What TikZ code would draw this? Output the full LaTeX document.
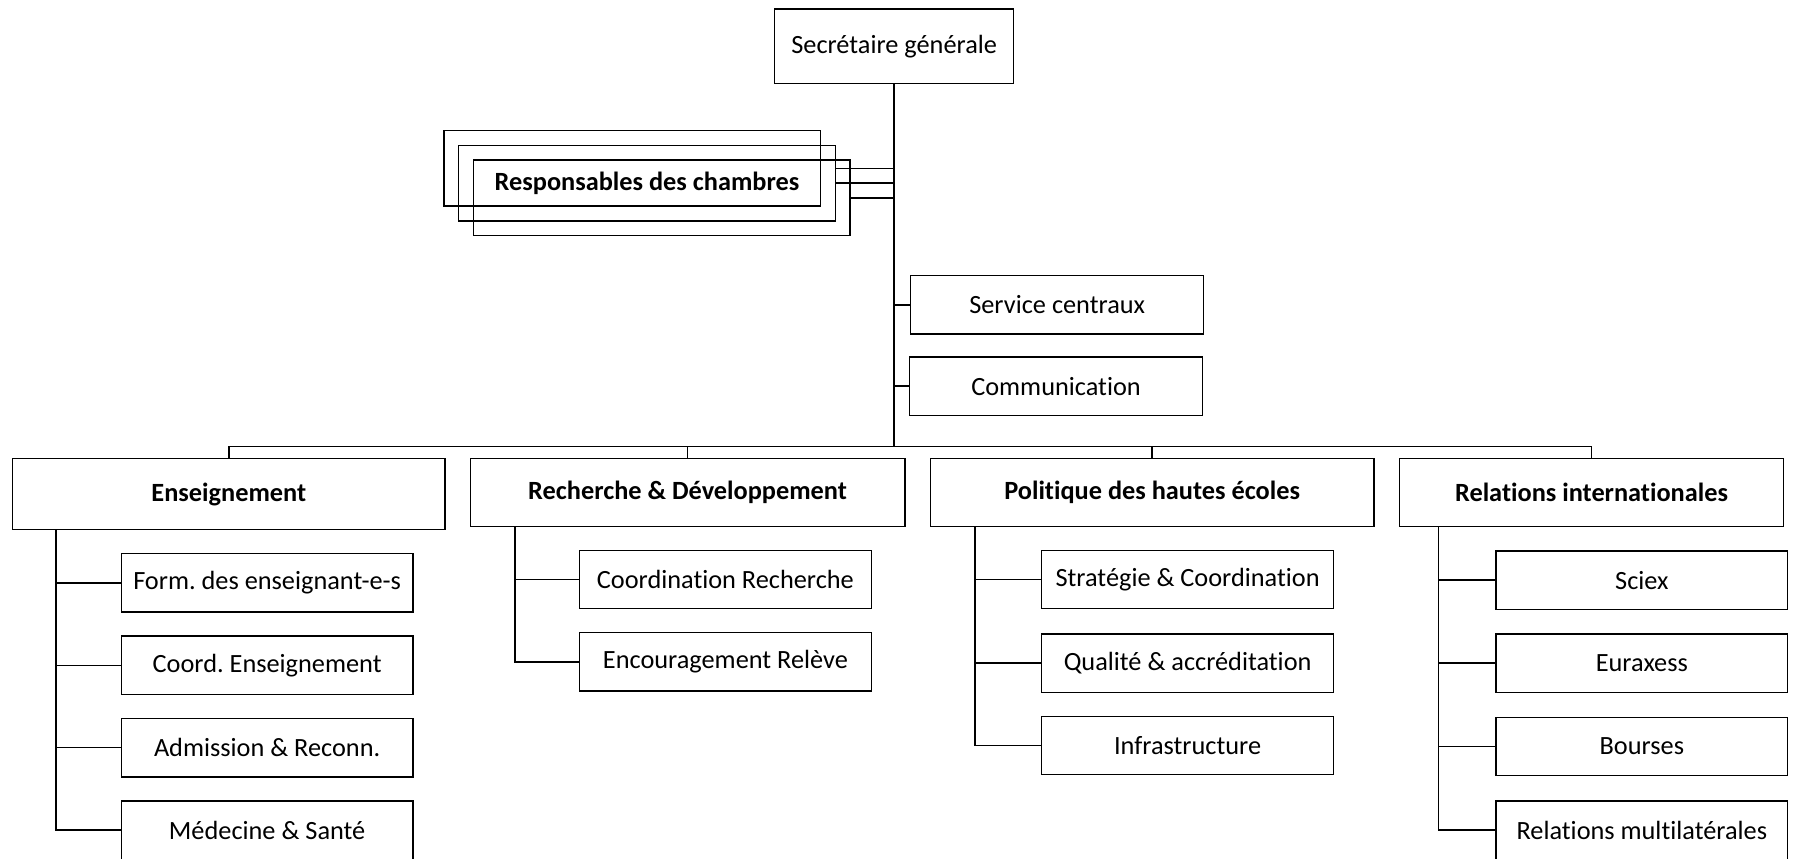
\documentclass[tikz,border=0pt]{standalone}
\usepackage{fontspec}
\setmainfont{Carlito}[RawFeature={-liga,-calt,-clig,-dlig}]
\frenchspacing
\begin{document}
\begin{tikzpicture}[x=0.5pt,y=-0.5pt,
  box/.style={draw,line width=0.6pt,inner sep=0pt,align=center,font=\fontsize{11.5}{13}\selectfont},
  top/.style={box,font=\fontsize{11.5}{13}\selectfont\bfseries},
  sub/.style={box,minimum width=127.5pt,minimum height=25.5pt},
  ln/.style={line width=0.6pt},
  trunk/.style={line width=1pt}]
\useasboundingbox (0,0) rectangle (1568,750);
% head
\node[box,minimum width=104.5pt,minimum height=32.5pt] (sec) at (781.5,40.5) {Secrétaire générale};
% stacked boxes
\node[box,minimum width=164.5pt,minimum height=33pt] (b1) at (552.5,147) {};
\node[box,minimum width=164.5pt,minimum height=33pt] (b2) at (565.5,160) {};
\node[box,minimum width=164.5pt,minimum height=33pt] (b3) at (578.5,173) {};
\node[font=\fontsize{11.5}{13}\selectfont\bfseries] (resp) at (565.5,160) {Responsables des chambres};
% staff
\node[box,minimum width=128pt,minimum height=25.5pt] (svc) at (924,266.5) {Service centraux};
\node[box,minimum width=128pt,minimum height=25.5pt] (com) at (923,337.5) {Communication};
% departments
\node[top,minimum width=189pt,minimum height=31pt] (ens) at (200,432) {Enseignement};
\node[top,minimum width=190pt,minimum height=29.5pt] (rd) at (601,430.5) {Recherche \& Développement};
\node[top,minimum width=194pt,minimum height=29.5pt] (pol) at (1007,430.5) {Politique des hautes écoles};
\node[top,minimum width=168pt,minimum height=29.5pt] (rel) at (1391,430.5) {Relations internationales};
% children
\node[sub] (e1) at (233.5,509.5) {Form. des enseignant-e-s};
\node[sub] (e2) at (233.5,581.5) {Coord. Enseignement};
\node[sub] (e3) at (233.5,653.5) {Admission \& Reconn.};
\node[sub] (e4) at (233.5,725.5) {Médecine \& Santé};
\node[sub] (r1) at (634,506.5) {Coordination Recherche};
\node[sub] (r2) at (634,578.5) {Encouragement Relève};
\node[sub] (p1) at (1038,506.5) {Stratégie \& Coordination};
\node[sub] (p2) at (1038,579.5) {Qualité \& accréditation};
\node[sub] (p3) at (1038,651.5) {Infrastructure};
\node[sub] (i1) at (1435,507) {Sciex};
\node[sub] (i2) at (1435,579.5) {Euraxess};
\node[sub] (i3) at (1435,652.5) {Bourses};
\node[sub] (i4) at (1435,725.5) {Relations multilatérales};
% trunk and bus
\coordinate (bus) at (781.5,390);
\draw[trunk] (sec.south) -- (bus);
\draw[ln] (ens.north) |- (bus) -| (rel.north);
\draw[ln] (rd.north) -- (rd.north |- bus);
\draw[ln] (pol.north) -- (pol.north |- bus);
% stacked connectors
\draw[ln] (b1.east -| b2.east) -- (b1.east -| sec.south);
\draw[ln] (b2.east) -- (b2.east -| sec.south);
\draw[ln] (b3.east) -- (b3.east -| sec.south);
\draw[ln] (svc.west -| sec.south) -- (svc.west);
\draw[ln] (com.west -| sec.south) -- (com.west);
% child connectors
\coordinate (ev) at (49,463);
\draw[ln] (ev) |- (e4.west);
\foreach \c in {e1,e2,e3} \draw[ln] (ev |- \c.west) -- (\c.west);
\coordinate (rv) at (450,460);
\draw[ln] (rv) |- (r2.west);
\draw[ln] (rv |- r1.west) -- (r1.west);
\coordinate (pv) at (852,460);
\draw[ln] (pv) |- (p3.west);
\foreach \c in {p1,p2} \draw[ln] (pv |- \c.west) -- (\c.west);
\coordinate (iv) at (1257,460);
\draw[ln] (iv) |- (i4.west);
\foreach \c in {i1,i2,i3} \draw[ln] (iv |- \c.west) -- (\c.west);
\end{tikzpicture}
\end{document}
